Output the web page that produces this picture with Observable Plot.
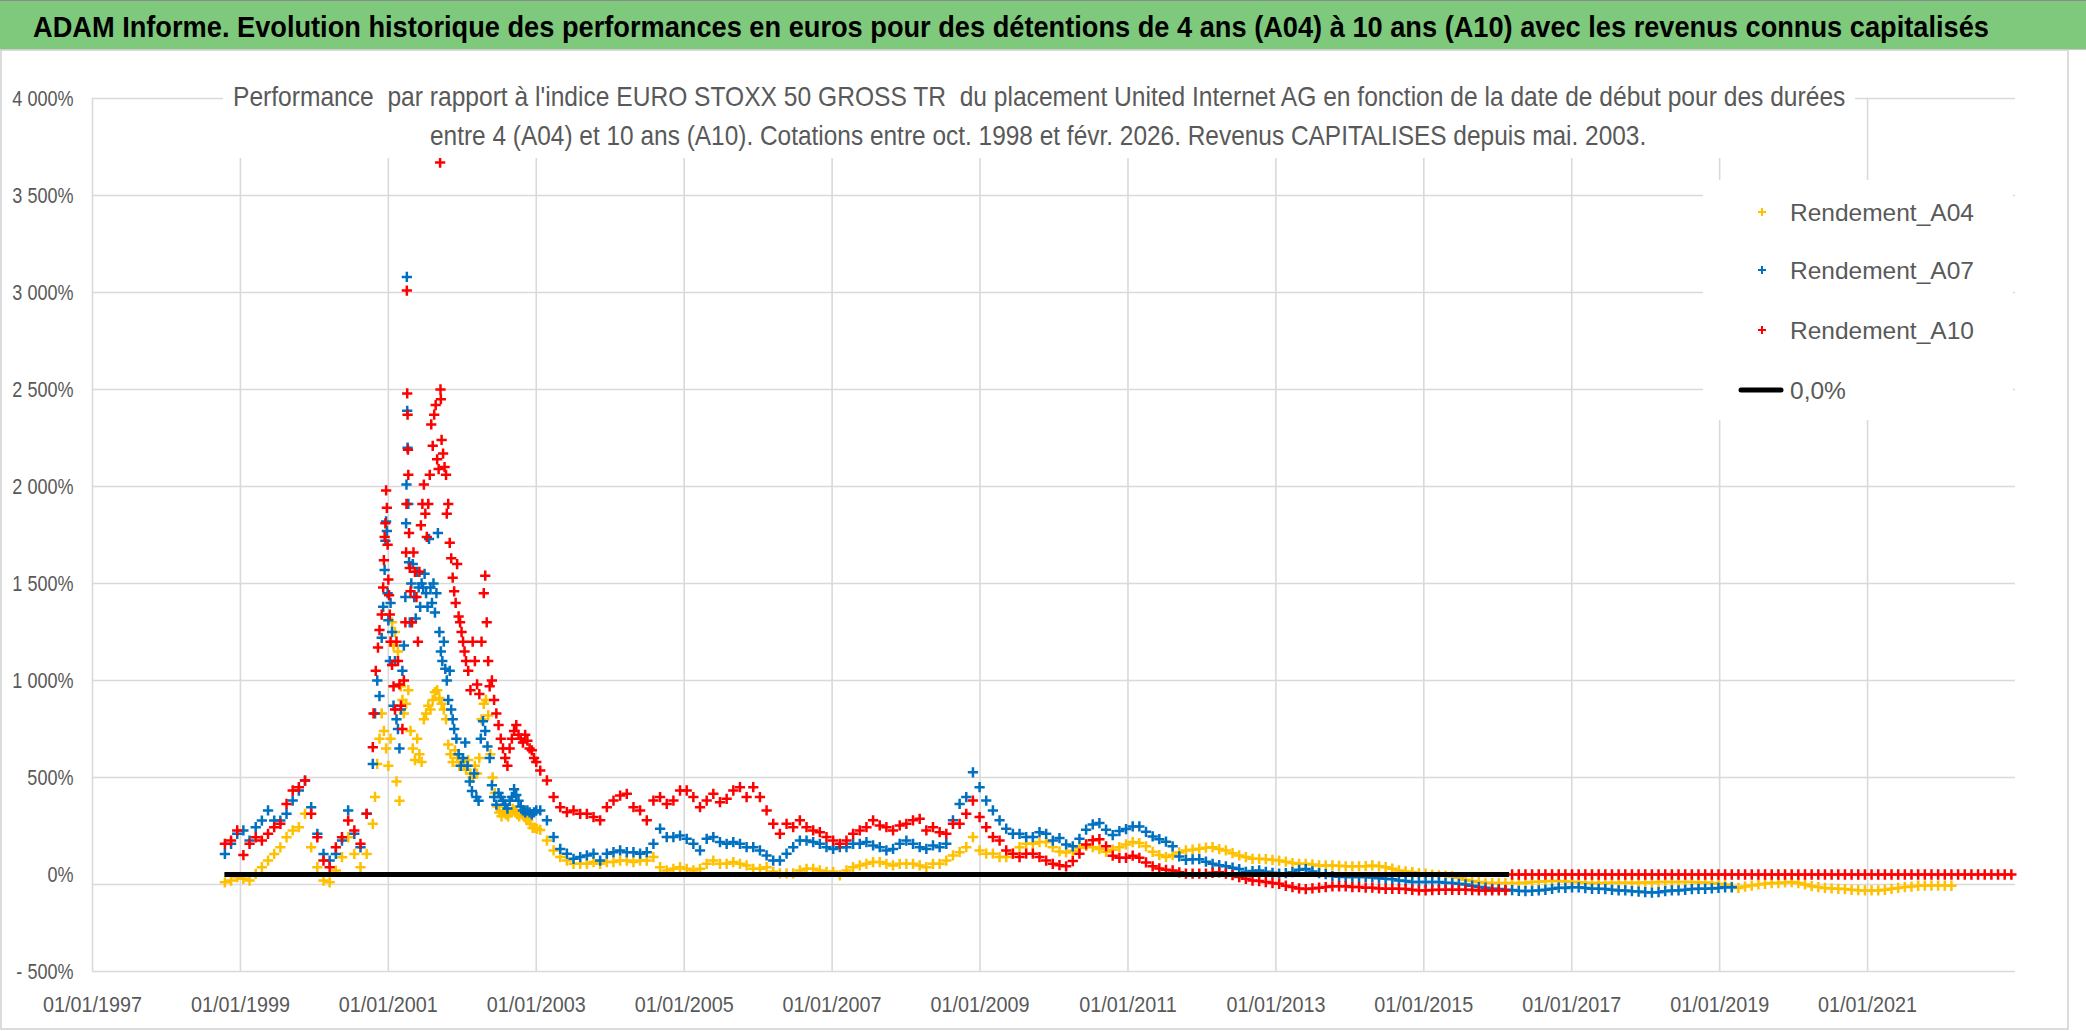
<!DOCTYPE html>
<html>
<head>
<meta charset="utf-8">
<script src="https://cdn.jsdelivr.net/npm/d3@7"></script>
<script src="https://cdn.jsdelivr.net/npm/@observablehq/plot@0.6"></script>
<style>
  html, body { margin: 0; padding: 0; background: #fff; }
  body { width: 2086px; height: 1031px; overflow: hidden; position: relative; }
  #chart { position: absolute; left: 0; top: 50px; }
  #overlay { position: absolute; left: 0; top: 0; pointer-events: none; }
</style>
</head>
<body>
<div id="chart"></div>
<svg id="overlay" width="2086" height="1031" xmlns="http://www.w3.org/2000/svg">
  <rect x="0" y="0" width="2086" height="49" fill="#7fc97c"/>
  <line x1="0" y1="0.5" x2="2086" y2="0.5" stroke="#8c8c8c"/>
  <line x1="0" y1="49.5" x2="2086" y2="49.5" stroke="#c8c8c8"/>
  <text id="mainTitle" font-family="'Liberation Sans',Arial,sans-serif" font-weight="bold" font-size="30" fill="#000"></text>
  <rect x="1" y="50" width="2067" height="979" fill="none" stroke="#d0d0d0" stroke-width="1.5"/>
  <rect x="223" y="72" width="1632" height="86" fill="#fff"/>
  <text id="sub1" xml:space="preserve" font-family="'Liberation Sans',Arial,sans-serif" font-size="27.5" fill="#595959"></text>
  <text id="sub2" font-family="'Liberation Sans',Arial,sans-serif" font-size="27.5" fill="#595959"></text>
  <g id="legend"></g>
</svg>
<script>
// ---------- DATA ----------
const titleText = "ADAM Informe. Evolution historique des performances en euros pour des détentions de 4 ans (A04) à 10 ans (A10) avec les revenus connus capitalisés";
const subtitleLines = [
  "Performance  par rapport à l'indice EURO STOXX 50 GROSS TR  du placement United Internet AG en fonction de la date de début pour des durées",
  "entre 4 (A04) et 10 ans (A10). Cotations entre oct. 1998 et févr. 2026. Revenus CAPITALISES depuis mai. 2003."
];
const seriesNames = ["Rendement_A04", "Rendement_A07", "Rendement_A10"];
const zeroName = "0,0%";
const xTicks = [1997, 1999, 2001, 2003, 2005, 2007, 2009, 2011, 2013, 2015, 2017, 2019, 2021];
const yTicks = [-500, 500, 1000, 1500, 2000, 2500, 3000, 3500, 4000];
const yLabelTicks = [-500, 0, 500, 1000, 1500, 2000, 2500, 3000, 3500, 4000];
const zeroTick = [0];

// Monthly values, Oct 1998 .. Oct 2000 (decimal years)
const earlyStart = 1998.79;
const earlyStep = 1 / 12;
const a04Early = [-40, -31, -14, -22, -31, 3, 38, 72, 106, 140, 192, 227, 244, 313, 140, 38, -31, -40, 20, 89, 192, 106, 38, 106, 261];
const a07Early = [106, 158, 210, 227, 175, 244, 278, 330, 278, 278, 313, 381, 433, 484, 347, 210, 106, 72, 106, 175, 330, 210, 140, 313, 570];
const a10Early = [158, 175, 227, 100, 158, 192, 175, 210, 244, 261, 364, 433, 450, 484, 313, 192, 72, 38, 140, 192, 278, 227, 158, 313, 656];

// Volatile period Nov 2000 .. Dec 2002 : [decimal year, %]
const a04Spike = [[2000.82,400],[2000.85,570],[2000.88,700],[2000.91,830],[2000.94,740],[2000.97,650],[2001.00,560],[2001.03,700],[2001.05,1300],[2001.07,1180],[2001.09,1250],[2001.11,480],[2001.13,1150],[2001.15,380],[2001.17,970],[2001.19,900],[2001.21,830],[2001.24,880],[2001.27,950],[2001.30,740],[2001.33,650],[2001.36,590],[2001.39,700],[2001.42,620],[2001.45,580],[2001.48,800],[2001.51,830],[2001.54,870],[2001.57,850],[2001.60,900],[2001.63,940],[2001.66,950],[2001.69,910],[2001.72,880],[2001.75,850],[2001.78,800],[2001.81,670],[2001.84,620],[2001.87,580],[2001.90,640],[2001.93,600],[2001.96,560],[2001.99,580],[2002.02,560],[2002.05,540],[2002.08,590],[2002.11,520],[2002.14,500],[2002.17,560],[2002.20,520],[2002.23,600],[2002.26,800],[2002.29,880],[2002.32,900],[2002.35,820],[2002.38,620],[2002.41,500],[2002.44,420],[2002.47,350],[2002.50,320],[2002.53,300],[2002.56,330],[2002.59,310],[2002.62,300],[2002.65,320],[2002.68,340],[2002.71,330],[2002.74,310],[2002.77,300],[2002.80,320],[2002.83,300],[2002.86,290],[2002.89,280],[2002.92,260],[2002.95,240],[2002.98,240],[2003.01,235]];
const a07Spike = [[2000.82,830],[2000.85,1000],[2000.88,920],[2000.91,1220],[2000.93,1380],[2000.95,1570],[2000.96,1720],[2000.97,1820],[2000.98,1770],[2000.99,1450],[2001.00,1310],[2001.02,1100],[2001.03,1400],[2001.05,1250],[2001.07,870],[2001.09,1100],[2001.11,800],[2001.13,750],[2001.15,650],[2001.17,850],[2001.19,1050],[2001.21,1180],[2001.23,1430],[2001.24,1810],[2001.245,2010],[2001.25,3080],[2001.255,2390],[2001.26,2200],[2001.27,1910],[2001.28,1610],[2001.29,1300],[2001.31,1500],[2001.33,1600],[2001.35,1430],[2001.37,1320],[2001.39,1560],[2001.41,1480],[2001.43,1380],[2001.45,1500],[2001.47,1480],[2001.49,1550],[2001.51,1450],[2001.53,1380],[2001.55,1730],[2001.57,1480],[2001.59,1400],[2001.61,1500],[2001.63,1350],[2001.65,1450],[2001.67,1760],[2001.69,1250],[2001.71,1150],[2001.73,1100],[2001.75,1200],[2001.77,1060],[2001.79,1000],[2001.81,900],[2001.83,1050],[2001.85,850],[2001.87,800],[2001.89,750],[2001.92,700],[2001.95,620],[2001.98,560],[2002.01,600],[2002.04,680],[2002.07,560],[2002.10,480],[2002.13,430],[2002.16,520],[2002.19,400],[2002.22,380],[2002.25,700],[2002.28,790],[2002.31,740],[2002.34,660],[2002.37,600],[2002.40,460],[2002.43,400],[2002.46,360],[2002.49,420],[2002.52,400],[2002.55,380],[2002.58,360],[2002.61,340],[2002.64,380],[2002.67,400],[2002.70,440],[2002.73,410],[2002.76,380],[2002.79,350],[2002.82,330],[2002.85,320],[2002.88,330],[2002.91,320],[2002.94,310],[2002.97,320],[2003.00,330]];
const a10Spike = [[2000.80,830],[2000.83,1050],[2000.86,1170],[2000.88,1260],[2000.91,1340],[2000.93,1480],[2000.94,1620],[2000.95,1740],[2000.96,1810],[2000.97,1980],[2000.98,1890],[2000.99,1700],[2001.00,1520],[2001.01,1440],[2001.02,1340],[2001.03,1200],[2001.05,1080],[2001.07,970],[2001.09,850],[2001.11,1200],[2001.13,1100],[2001.15,980],[2001.17,870],[2001.19,750],[2001.21,1000],[2001.23,1300],[2001.24,1660],[2001.245,1910],[2001.25,3010],[2001.255,2480],[2001.26,2370],[2001.265,2190],[2001.27,2060],[2001.28,1760],[2001.29,1580],[2001.30,1460],[2001.32,1300],[2001.34,1660],[2001.36,1560],[2001.38,1430],[2001.40,1200],[2001.42,1560],[2001.44,1800],[2001.46,1910],[2001.48,2010],[2001.50,1860],[2001.52,1740],[2001.54,1910],[2001.56,2060],[2001.58,2320],[2001.60,2210],[2001.62,2370],[2001.64,2420],[2001.66,2140],[2001.68,2090],[2001.70,3670],[2001.705,2500],[2001.71,2450],[2001.72,2240],[2001.74,2170],[2001.76,2100],[2001.78,2060],[2001.79,1860],[2001.81,1910],[2001.83,1710],[2001.85,1630],[2001.87,1530],[2001.89,1460],[2001.91,1400],[2001.93,1600],[2001.95,1330],[2001.97,1300],[2001.99,1250],[2002.01,1200],[2002.03,1150],[2002.05,1100],[2002.08,1050],[2002.11,950],[2002.14,1200],[2002.17,1100],[2002.20,980],[2002.23,930],[2002.26,1200],[2002.29,1450],[2002.31,1540],[2002.33,1300],[2002.35,1100],[2002.37,970],[2002.40,1000],[2002.43,900],[2002.46,830],[2002.49,770],[2002.52,700],[2002.55,650],[2002.58,600],[2002.61,560],[2002.64,650],[2002.67,700],[2002.70,740],[2002.73,770],[2002.76,720],[2002.79,700],[2002.82,680],[2002.85,720],[2002.88,690],[2002.91,650],[2002.94,640],[2002.97,600],[2003.00,580]];

// Regular samples from 2003.054, every 0.09 year
const lateStart = 2003.054;
const lateStep = 0.09;
const a04Late = [230, 175, 124, 90, 72, 55, 55, 55, 64, 55, 64, 64, 72, 72, 64, 72, 72, 90, 38, 21, 29, 38, 29, 21, 29, 55, 72, 55, 55, 64, 55, 47, 29, 29, 38, 14, 6, 6, 6, 21, 29, 29, 21, 14, 14, -5, 21, 38, 47, 55, 64, 64, 55, 47, 55, 55, 55, 47, 38, 55, 55, 72, 98, 115, 141, 193, 124, 107, 107, 90, 90, 107, 141, 158, 158, 167, 167, 141,
  119, 114, 122, 138, 148, 141, 131, 117, 128, 141, 155, 167, 162, 145, 117, 100, 90, 100, 114, 124, 128, 133, 138, 141, 131, 124, 110, 98, 90, 81, 81, 79, 76, 72, 66, 59, 55, 55, 52, 47, 47, 47, 45, 42, 42, 42, 43, 47, 42, 38, 30, 21, 16, 12, 7, 4, -1, -5, -7, -10, -17, -27, -34, -39, -43, -44, -44, -44, -44, -44, -43, -39, -37, -35, -34, -34,
  -36, -38, -40, -42, -44, -44, -44, -43, -42, -42, -42, -42, -41, -41, -39, -39, -39, -39, -39, -39, -41, -41, -44, -48, -51, -62, -69, -62, -57, -51, -48, -44, -44, -41, -39, -44, -51, -60, -65, -69, -72, -74, -75, -79, -81, -82, -82, -82, -79, -74, -69, -65, -62, -58, -57, -57, -57, -57, -58];
const a07Late = [330, 279, 193, 132, 107, 81, 90, 98, 107, 72, 107, 115, 124, 115, 115, 107, 115, 158, 236, 193, 193, 201, 184, 158, 124, 184, 193, 167, 158, 167, 158, 141, 141, 124, 98, 72, 72, 107, 141, 175, 175, 167, 158, 141, 132, 141, 141, 158, 158, 167, 150, 141, 124, 132, 158, 175, 158, 141, 132, 150, 141, 158, 279, 364, 399, 527, 450, 381, 330, 279, 236, 210, 210, 193, 193, 218, 210, 175,
  188, 155, 145, 184, 231, 258, 265, 231, 203, 224, 234, 248, 248, 220, 196, 182, 169, 145, 93, 76, 78, 79, 66, 55, 48, 42, 35, 28, 14, 18, 21, 14, 9, 4, 7, 12, 24, 28, 16, 7, 2, -8, -12, -13, -13, -13, -13, -15, -19, -22, -25, -31, -34, -39, -39, -39, -39, -39, -43, -44, -48, -51, -58, -65, -68, -74, -75, -79, -80, -84, -86, -84, -82, -79, -74, -68,
  -69, -66, -66, -70, -74, -74, -75, -79, -82, -82, -86, -88, -91, -93, -91, -86, -82, -82, -79, -75, -74, -74, -72, -69, -66, -66];
const a10Late = [536, 485, 399, 347, 321, 330, 313, 313, 296, 279, 347, 381, 407, 416, 347, 330, 279, 381, 399, 364, 381, 433, 433, 399, 347, 381, 416, 373, 390, 433, 450, 399, 450, 399, 330, 261, 210, 261, 244, 279, 244, 227, 218, 193, 175, 158, 175, 210, 227, 244, 279, 253, 244, 227, 253, 261, 279, 287, 227, 244, 218, 210, 261, 261, 313, 381, 296, 244, 193, 175, 124, 107, 90, 107, 107, 90, 72, 55,
  48, 42, 69, 107, 155, 176, 182, 145, 97, 86, 86, 97, 86, 62, 42, 31, 24, 21, 11, 4, 4, 4, 4, 9, 11, 4, -3, -13, -22, -31, -34, -39, -44, -48, -58, -65, -72, -75, -72, -68, -65, -61, -61, -61, -65, -65, -68, -68, -72, -74, -74, -74, -75, -79, -82, -82, -80, -79, -79, -79, -79, -79, -80, -82, -82, -82, -82, -82,
  0, 0, 0, 0, 0, 0, 0, 0, 0, 0, 0, 0, 0, 0, 0, 0, 0, 0, 0, 0, 0, 0, 0, 0, 0, 0, 0, 0, 0, 0, 0, 0, 0, 0, 0, 0, 0, 0,
  0, 0, 0, 0, 0, 0, 0, 0, 0, 0, 0, 0, 0, 0, 0, 0, 0, 0, 0, 0, 0, 0, 0, 0, 0, 0, 0, 0, 0, 0, 0, 0, 0, 0, 0, 0, 0, 0];

// Black 0,0% reference line span (decimal years)
const zeroStart = [1998.79];
const zeroEnd = [2016.16];

const colors = ["#FFC000", "#0070C0", "#FF0000"];

// ---------- BUILD ----------
const grid = (start, step, vals) => vals.map((v, i) => ({t: start + i * step, v}));
const pairs = (p) => p.map(([t, v]) => ({t, v}));
const a04 = [...grid(earlyStart, earlyStep, a04Early), ...pairs(a04Spike), ...grid(lateStart, lateStep, a04Late)];
const a07 = [...grid(earlyStart, earlyStep, a07Early), ...pairs(a07Spike), ...grid(lateStart, lateStep, a07Late)];
const a10 = [...grid(earlyStart, earlyStep, a10Early), ...pairs(a10Spike), ...grid(lateStart, lateStep, a10Late)];
const zeroLine = zeroStart.map((s, i) => ({start: s, end: zeroEnd[i]}));

const fmtPct = (v) => {
  const a = Math.abs(v);
  const s = a >= 1000 ? Math.floor(a / 1000) + " " + String(a % 1000).padStart(3, "0") : String(a);
  return (v < 0 ? "- " : "") + s + "%";
};

const dotOpts = {x: "t", y: "v", symbol: "plus", r: 3.4, strokeWidth: 2.5};
const gridStyle = {stroke: "#d9d9d9", strokeOpacity: 1, strokeWidth: 1.6};

const chart = Plot.plot({
  width: 2086,
  height: 981,
  marginTop: 48,
  marginBottom: 60,
  marginLeft: 92,
  marginRight: 71,
  style: {fontFamily: "'Liberation Sans',Arial,sans-serif", fontSize: "22px", color: "#595959", background: "white", overflow: "visible"},
  x: {type: "linear", domain: [1997, 2023]},
  y: {type: "linear", domain: [-500, 4000]},
  marks: [
    Plot.gridX(xTicks, gridStyle),
    Plot.gridY(yTicks, gridStyle),
    Plot.gridY(zeroTick, {...gridStyle, dy: 10}),
    Plot.axisX(xTicks, {tickSize: 0, tickPadding: 25, tickFormat: (d) => "01/01/" + d, label: null}),
    Plot.axisY(yLabelTicks, {tickSize: 0, tickPadding: 19, tickFormat: fmtPct, label: null}),
    Plot.dot(a04, {...dotOpts, stroke: colors[0]}),
    Plot.dot(a07, {...dotOpts, stroke: colors[1]}),
    Plot.dot(a10, {...dotOpts, stroke: colors[2]}),
    Plot.ruleY(zeroLine, {y: () => 0, x1: "start", x2: "end", stroke: "#000", strokeWidth: 5})
  ]
});
document.getElementById("chart").appendChild(chart);

// Condense tick labels horizontally (the reference uses a narrow face)
function condense(texts, s) {
  for (const t of texts) {
    const tr = t.getAttribute("transform");
    if (tr) {
      t.setAttribute("transform", tr + ` scale(${s},1)`);
    } else {
      const x = +(t.getAttribute("x") || 0), y = +(t.getAttribute("y") || 0);
      t.removeAttribute("x"); t.removeAttribute("y");
      t.setAttribute("transform", `translate(${x},${y}) scale(${s},1)`);
    }
  }
}
condense(chart.querySelectorAll('g[aria-label="y-axis tick label"] text'), 0.82);
condense(chart.querySelectorAll('g[aria-label="x-axis tick label"] text'), 0.9);

// ---------- TEXT OVERLAYS ----------
function fitText(id, text, x, y, targetW) {
  const t = document.getElementById(id);
  t.textContent = text;
  const w = t.getComputedTextLength();
  t.setAttribute("transform", `translate(${x},${y}) scale(${targetW / w},1)`);
}
fitText("mainTitle", titleText, 33, 37, 1957);
fitText("sub1", subtitleLines[0], 233, 106, 1613);
fitText("sub2", subtitleLines[1], 430, 145, 1217);

// Legend
const ns = "http://www.w3.org/2000/svg";
const leg = document.getElementById("legend");
function el(tag, attrs, text) {
  const e = document.createElementNS(ns, tag);
  for (const k in attrs) e.setAttribute(k, attrs[k]);
  if (text != null) e.textContent = text;
  leg.appendChild(e);
  return e;
}
el("rect", {x: 1703, y: 180, width: 310, height: 240, fill: "#fff"});
const legY = [212, 270, 330, 390];
const legFont = "'Liberation Sans',Arial,sans-serif";
seriesNames.forEach((name, i) => {
  const cy = legY[i], cx = 1762;
  el("path", {d: `M${cx - 4},${cy}H${cx + 4}M${cx},${cy - 4}V${cy + 4}`, stroke: colors[i], "stroke-width": 2, fill: "none"});
  el("text", {x: 1790, y: cy + 9, "font-family": legFont, "font-size": 24.5, fill: "#595959"}, name);
});
el("line", {x1: 1741, y1: legY[3], x2: 1781, y2: legY[3], stroke: "#000", "stroke-width": 5, "stroke-linecap": "round"});
el("text", {x: 1790, y: legY[3] + 9, "font-family": legFont, "font-size": 24.5, fill: "#595959"}, zeroName);
</script>
</body>
</html>
